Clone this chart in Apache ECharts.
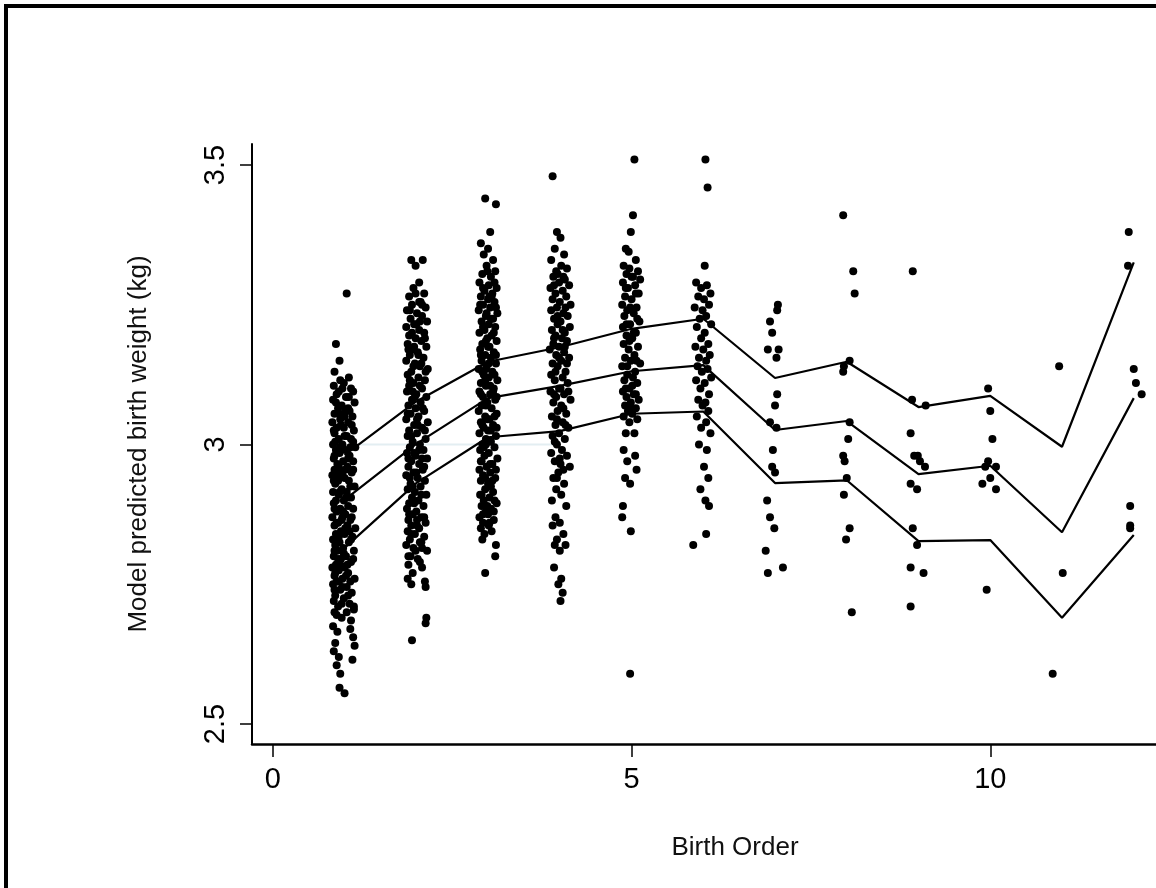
<!DOCTYPE html>
<html>
<head>
<meta charset="utf-8">
<script src="https://cdn.jsdelivr.net/npm/echarts@6/dist/echarts.min.js"></script>
<style>
html,body{margin:0;padding:0;background:#fff;}
#chart{width:1156px;height:888px;}
</style>
</head>
<body>
<div id="chart"></div>
<script>
// ---- data ----
var birthOrder = [1,2,3,4,5,6,7,8,9,10,11,12];
var upperLine = [2.981, 3.077, 3.148, 3.174, 3.207, 3.225, 3.119, 3.148, 3.067, 3.087, 2.996, 3.326];
var middleLine = [2.901, 3.001, 3.083, 3.105, 3.131, 3.142, 3.026, 3.042, 2.947, 2.962, 2.843, 3.083];
var lowerLine = [2.815, 2.931, 3.013, 3.024, 3.055, 3.059, 2.931, 2.936, 2.827, 2.829, 2.690, 2.838];
var xTicks = [0, 5, 10];
var yTicks = [2.5, 3, 3.5];
var faintRef = [[1.2, 3.0], [3.9, 3.0]];

var pts1 = [[1.03,3.27],[0.88,3.18],[0.93,3.15],[0.86,3.13],[1.06,3.12],[0.94,3.115],
[0.85,3.105],[1.09,3.10],[0.97,3.10],[1.12,3.095],[0.89,3.09],[1.02,3.085],[0.84,3.08],[1.14,3.075],[0.96,3.07],
[0.91,3.065],[1.07,3.06],[0.86,3.055],[1.00,3.05],[1.11,3.05],[0.94,3.045],[0.83,3.04],[1.05,3.04],[0.89,3.03],[0.99,3.03],[1.13,3.025],
[0.86,3.02],[1.03,3.015],[0.92,3.01],[1.09,3.01],[0.84,3.00],[0.97,3.00],[1.15,2.995],[0.88,2.99],[1.01,2.99],[0.93,2.985],[1.07,2.98],[0.85,2.975],
[0.98,2.97],[1.12,2.97],[0.90,2.965],[1.04,2.96],[0.86,2.955],[0.95,2.95],[1.10,2.95],[0.83,2.945],[1.00,2.94],[0.91,2.935],[1.06,2.935],[0.87,2.93],[1.14,2.925],[0.96,2.92],
[0.84,2.915],[1.03,2.915],[0.92,2.91],[1.09,2.905],[0.88,2.90],[0.99,2.90],[0.85,2.895],[1.05,2.89],[0.94,2.885],[1.12,2.885],[0.89,2.88],[1.01,2.875],
[0.83,2.87],[0.97,2.87],[1.08,2.865],[0.91,2.86],[0.86,2.855],[1.04,2.855],[1.15,2.85],[0.95,2.845],[0.88,2.84],[1.00,2.84],[1.11,2.835],[0.84,2.83],[0.93,2.825],[1.06,2.825],
[0.87,2.82],[0.98,2.815],[1.13,2.81],[0.90,2.81],[0.85,2.80],[1.02,2.80],[0.95,2.795],[1.09,2.79],[0.88,2.785],[0.83,2.78],[1.00,2.78],[0.92,2.775],[1.05,2.77],[0.86,2.765],
[1.14,2.76],[0.97,2.76],[0.89,2.755],[0.84,2.75],[1.03,2.745],[0.94,2.74],[1.10,2.735],[0.87,2.73],[0.99,2.725],[0.85,2.72],[1.07,2.715],[0.91,2.71],[1.13,2.705],
[0.86,2.70],[0.96,2.69],[1.09,2.685],[0.84,2.675],[0.90,2.665],[1.12,2.655],[0.87,2.645],[1.14,2.64],[0.85,2.63],[0.92,2.62],[1.11,2.615],[0.89,2.605],
[0.94,2.59],[0.93,2.565],[1.00,2.555],[1.13,2.71],[1.08,2.67],
[0.95,3.035],[1.08,2.995],[0.90,2.945],[1.02,2.905],[0.96,2.865],[1.07,2.845],[0.91,2.795],[1.04,2.785],[0.97,2.745],[1.01,2.955],[0.87,3.005],[1.05,3.065],
[0.99,3.11],[0.92,3.095],[1.06,3.085],[0.88,3.075],[1.01,3.06],[0.93,3.055],[1.10,3.035],[0.85,3.025],[1.00,3.015],[1.12,3.005],[0.94,2.995],[0.86,2.98],
[1.05,2.975],[0.92,2.96],[1.12,2.955],[0.97,2.945],[0.85,2.935],[1.08,2.925],[0.93,2.915],[1.05,2.905],[0.86,2.885],[0.98,2.88],[1.10,2.87],[0.89,2.86],
[1.01,2.85],[0.92,2.835],[1.09,2.83],[0.86,2.81],[0.99,2.805],[1.12,2.795],[0.94,2.785],[0.87,2.77],[1.02,2.765],[1.08,2.755],[0.92,2.755],[0.86,2.74],
[1.05,2.73],[0.96,2.715],[0.89,2.695],[1.03,2.70]];

var pts2 = [[1.93,3.33],[2.09,3.33],[1.99,3.32],[2.04,3.29],[1.96,3.28],[2.11,3.27],[1.90,3.265],
[2.06,3.255],[1.94,3.25],[2.13,3.245],[1.87,3.24],[2.01,3.235],[2.08,3.23],[1.92,3.225],[2.15,3.22],[1.97,3.215],[1.86,3.21],[2.04,3.205],[2.11,3.20],[1.90,3.195],[1.99,3.19],
[2.07,3.185],[1.88,3.18],[2.14,3.175],[1.95,3.17],[2.02,3.165],[1.91,3.16],[2.10,3.155],[1.86,3.15],[1.98,3.145],[2.05,3.14],[2.16,3.135],[1.93,3.13],[1.88,3.125],[2.03,3.12],
[2.12,3.115],[1.96,3.11],[1.90,3.105],[2.08,3.10],[1.87,3.095],[2.00,3.09],[2.14,3.085],[1.94,3.08],[2.06,3.075],[1.89,3.07],[1.99,3.065],[2.11,3.06],[1.92,3.055],[2.03,3.05],
[1.86,3.045],[2.16,3.04],[1.97,3.035],[2.08,3.03],[1.90,3.025],[2.01,3.02],[1.88,3.015],[2.13,3.01],[1.95,3.005],[2.05,3.00],[1.91,2.995],[2.10,2.99],[1.87,2.985],[1.99,2.98],
[2.15,2.975],[1.93,2.97],[2.04,2.965],[1.89,2.96],[2.09,2.955],[1.96,2.95],[1.86,2.945],[2.02,2.94],[2.12,2.935],[1.92,2.93],[2.06,2.925],[1.88,2.92],[1.98,2.915],[2.14,2.91],
[1.94,2.905],[2.03,2.90],[1.90,2.895],[2.10,2.89],[1.87,2.885],[2.00,2.88],[1.95,2.875],[2.07,2.87],[1.89,2.865],[2.13,2.86],[1.93,2.855],[2.04,2.85],[1.88,2.845],[1.98,2.84],
[2.11,2.835],[1.91,2.83],[2.05,2.825],[1.86,2.82],[1.96,2.815],[2.15,2.81],[1.92,2.80],[2.02,2.795],[1.89,2.785],[2.08,2.78],[1.95,2.77],[1.88,2.76],[2.12,2.755],[1.93,2.75],
[2.13,2.745],[2.14,2.69],[2.13,2.68],[1.94,2.65],
[2.00,3.215],[2.07,3.145],[1.95,3.095],[2.02,3.035],[2.08,2.975],[1.95,2.925],[2.01,2.865],[2.07,2.825],[1.97,3.175],[2.04,3.255],
[1.99,3.27],[2.08,3.25],[1.91,3.24],[2.05,3.22],[1.94,3.20],[2.12,3.19],[1.89,3.17],[2.03,3.16],[1.96,3.14],[2.13,3.13],[1.91,3.115],[2.05,3.105],
[1.98,3.085],[2.09,3.065],[1.88,3.055],[2.01,3.045],[2.12,3.025],[1.93,3.015],[2.04,2.99],[1.97,2.985],[1.89,2.975],[2.11,2.96],[2.00,2.95],[1.91,2.94],
[2.07,2.91],[1.97,2.895],[1.90,2.875],[2.11,2.87],[2.01,2.855],[1.93,2.84],[2.08,2.815],[1.99,2.81],[1.89,2.80],[2.05,2.79]];

var pts3 = [[2.96,3.44],[3.11,3.43],[3.03,3.38],[2.90,3.36],[3.00,3.35],[2.94,3.34],[3.07,3.33],
[2.98,3.32],[3.10,3.31],[2.92,3.305],[3.04,3.30],[2.88,3.29],[3.01,3.285],[3.12,3.28],[2.95,3.275],[3.06,3.27],[2.90,3.265],[3.00,3.26],[3.09,3.255],[2.93,3.25],[3.03,3.245],
[2.87,3.24],[3.13,3.235],[2.97,3.23],[3.07,3.225],[2.91,3.22],[3.01,3.215],[3.10,3.21],[2.95,3.205],[2.88,3.20],[3.05,3.195],[2.99,3.19],[3.12,3.185],[2.92,3.18],[3.02,3.175],
[2.89,3.17],[3.08,3.165],[2.96,3.16],[3.04,3.155],[2.91,3.15],[3.11,3.145],[2.98,3.14],[2.87,3.135],[3.06,3.13],[2.94,3.125],[3.01,3.12],[3.13,3.115],[2.90,3.11],[2.97,3.105],
[3.08,3.10],[2.88,3.095],[3.03,3.09],[2.93,3.085],[3.10,3.08],[2.99,3.075],[2.91,3.07],[3.05,3.065],[2.87,3.06],[3.12,3.055],[2.96,3.05],[3.02,3.045],[2.90,3.04],[3.07,3.035],
[2.94,3.03],[3.00,3.025],[2.88,3.02],[3.11,3.015],[2.97,3.01],[3.04,3.005],[2.92,3.00],[3.09,2.995],[2.89,2.99],[3.01,2.985],[2.95,2.98],[3.13,2.975],[2.91,2.97],[3.06,2.965],
[2.98,2.96],[2.88,2.955],[3.03,2.95],[2.93,2.945],[3.10,2.94],[2.90,2.935],[3.00,2.93],[2.96,2.92],[3.07,2.915],[2.89,2.91],[3.02,2.905],[2.94,2.90],[3.12,2.895],[2.91,2.89],
[3.04,2.885],[2.97,2.88],[2.88,2.87],[3.08,2.865],[2.93,2.86],[3.01,2.855],[2.90,2.85],[3.05,2.845],[2.95,2.84],[2.92,2.83],[3.11,2.82],[3.10,2.80],[2.96,2.77],
[3.04,3.225],[2.97,3.185],[3.07,3.095],[2.99,3.045],[2.94,2.995],[3.06,2.935],[3.00,2.875],[2.97,3.135],[3.05,3.265],
[2.99,3.31],[3.09,3.29],[2.93,3.28],[3.02,3.265],[2.89,3.25],[3.11,3.245],[2.98,3.235],[2.93,3.21],[3.08,3.20],[3.00,3.175],[2.90,3.16],[3.11,3.16],
[3.01,3.145],[2.92,3.13],[3.09,3.125],[2.96,3.115],[3.03,3.105],[2.90,3.09],[3.12,3.085],[2.97,3.07],[3.09,3.05],[2.92,3.035],[3.04,3.025],[3.12,3.03],
[2.97,3.00],[2.90,2.97],[3.03,2.965],[3.11,2.955],[2.96,2.94],[3.04,2.925],[2.91,2.91],[3.09,2.90],[2.99,2.89],[3.08,2.88],[2.93,2.875],[3.02,2.86]];

var pts4 = [[3.90,3.48],[3.96,3.38],[4.01,3.37],[3.93,3.35],[4.06,3.34],[3.88,3.33],[4.02,3.32],
[4.10,3.315],[3.95,3.31],[3.91,3.30],[4.07,3.295],[3.99,3.29],[4.13,3.285],[3.87,3.28],[4.04,3.275],[3.94,3.27],[4.09,3.265],[3.90,3.26],[4.00,3.255],[4.15,3.25],[3.96,3.245],
[3.88,3.24],[4.05,3.235],[4.11,3.23],[3.92,3.225],[4.01,3.22],[3.97,3.215],[4.14,3.21],[3.89,3.205],[4.07,3.20],[3.94,3.195],[4.03,3.19],[4.10,3.185],[3.91,3.18],[3.99,3.175],
[3.86,3.17],[4.06,3.165],[3.95,3.16],[4.13,3.155],[4.02,3.15],[3.90,3.145],[3.97,3.14],[4.08,3.13],[3.88,3.125],[4.04,3.12],[3.93,3.115],[4.11,3.11],[3.99,3.10],[3.87,3.095],
[4.06,3.09],[3.95,3.085],[4.15,3.08],[3.91,3.075],[4.02,3.07],[3.97,3.06],[4.09,3.055],[3.89,3.05],[4.04,3.04],[3.94,3.035],[4.12,3.03],[3.99,3.02],[3.90,3.015],[4.07,3.01],
[3.96,3.00],[4.03,2.99],[3.88,2.985],[4.10,2.98],[3.93,2.97],[4.01,2.965],[4.14,2.96],[3.98,2.95],[3.91,2.94],[4.06,2.93],[3.95,2.92],[4.02,2.91],[3.89,2.90],[4.09,2.89],
[3.94,2.87],[4.00,2.86],[3.90,2.855],[4.05,2.84],[3.96,2.83],[3.93,2.82],[4.08,2.82],[4.00,2.81],[3.92,2.78],[4.02,2.76],[3.98,2.75],[4.04,2.735],[4.01,2.72],
[3.97,3.305],[4.05,3.30],[3.92,3.285],[4.08,3.245],[3.97,3.23],[4.04,3.205],[3.92,3.19],[4.07,3.175],[3.99,3.155],[4.10,3.145],[3.94,3.13],[4.01,3.10],
[4.12,3.095],[3.92,3.09],[4.05,3.065],[3.96,3.045],[4.08,3.035],[3.93,3.005],[4.00,2.975],[4.05,2.955],[3.96,2.94]];

var pts5 = [[5.04,3.51],[5.02,3.41],[4.99,3.38],[4.92,3.35],[4.96,3.345],[5.06,3.33],[4.89,3.32],
[4.97,3.315],[5.09,3.31],[4.93,3.305],[5.02,3.30],[5.12,3.295],[4.88,3.29],[5.05,3.285],[4.95,3.28],[5.10,3.27],[4.91,3.265],[5.00,3.26],[4.87,3.25],[5.07,3.245],[4.94,3.24],
[5.03,3.235],[4.90,3.23],[5.11,3.22],[4.98,3.215],[4.88,3.21],[5.06,3.20],[4.93,3.195],[5.01,3.19],[4.89,3.18],[5.09,3.175],[4.96,3.17],[5.04,3.16],[4.91,3.155],[4.99,3.15],
[5.12,3.145],[4.87,3.14],[5.05,3.13],[4.94,3.125],[5.02,3.12],[4.90,3.115],[5.08,3.11],[4.97,3.10],[4.88,3.095],[5.03,3.09],[4.93,3.085],[5.10,3.08],[4.99,3.075],[4.91,3.07],
[5.06,3.065],[4.95,3.06],[5.01,3.055],[4.89,3.05],[5.08,3.045],[4.97,3.04],[4.92,3.02],[5.04,3.02],[4.89,2.99],[5.05,2.98],[4.94,2.97],[5.07,2.955],[4.91,2.94],[4.98,2.93],
[4.88,2.89],[4.87,2.87],[4.99,2.845],[4.98,2.59],
[5.00,3.30],[4.92,3.28],[5.06,3.27],[4.98,3.245],[5.08,3.225],[4.93,3.215],[5.03,3.20],[4.97,3.185],[5.07,3.15],[4.94,3.14],[5.01,3.105],[4.92,3.10],[5.06,3.09],[4.97,3.065]];

var pts6 = [[6.03,3.51],[6.06,3.46],[6.02,3.32],[5.90,3.29],[6.05,3.285],[5.97,3.28],[6.10,3.27],
[5.93,3.265],[6.01,3.26],[6.08,3.25],[5.88,3.245],[5.99,3.24],[6.04,3.23],[5.95,3.225],[6.11,3.215],[5.91,3.21],[6.02,3.20],[5.97,3.19],[6.07,3.18],[5.89,3.175],[6.00,3.17],
[6.09,3.16],[5.94,3.155],[6.04,3.15],[5.92,3.14],[6.06,3.135],[5.98,3.13],[6.11,3.12],[5.90,3.115],[6.02,3.11],[5.96,3.10],[6.08,3.09],[5.93,3.08],[6.03,3.075],[5.99,3.07],
[6.07,3.06],[5.91,3.05],[6.04,3.04],[5.97,3.03],[6.10,3.02],[5.94,3.00],[6.05,2.99],[6.01,2.96],[6.07,2.94],[5.96,2.92],[6.03,2.90],[6.08,2.89],[6.04,2.84],[5.86,2.82]];

var pts7 = [[7.04,3.25],[7.03,3.24],[6.93,3.22],[6.96,3.20],[6.90,3.17],[7.05,3.17],[7.02,3.155],[7.03,3.09],[7.00,3.07],[6.93,3.04],
[7.02,3.03],[6.97,2.99],[6.96,2.96],[7.00,2.95],[6.89,2.90],[6.93,2.87],[6.99,2.85],[6.87,2.81],[7.11,2.78],[6.90,2.77]];
var pts8 = [[7.95,3.41],[8.09,3.31],[8.11,3.27],[8.04,3.15],[7.96,3.14],[7.95,3.13],[8.04,3.04],[8.02,3.01],[7.95,2.98],[7.97,2.97],
[8.00,2.94],[7.96,2.91],[8.04,2.85],[7.99,2.83],[8.07,2.70]];
var pts9 = [[8.92,3.31],[8.91,3.08],[9.10,3.07],[8.89,3.02],[8.94,2.98],[8.99,2.98],[9.02,2.97],[9.09,2.96],[8.89,2.93],[8.98,2.92],
[8.92,2.85],[8.98,2.82],[8.89,2.78],[9.07,2.77],[8.89,2.71]];
var pts10 = [[9.97,3.10],[10.00,3.06],[10.03,3.01],[9.97,2.97],[9.93,2.96],[10.08,2.96],[10.00,2.94],[9.89,2.93],[10.08,2.92],[9.95,2.74]];
var pts11 = [[10.96,3.14],[11.01,2.77],[10.87,2.59]];
var pts12 = [[11.93,3.38],[11.92,3.32],[12.00,3.135],[12.03,3.11],[12.11,3.09],[11.95,2.89],[11.95,2.855],[11.95,2.85]];

// ---- build ----
var allPoints = [].concat(pts1, pts2, pts3, pts4, pts5, pts6, pts7, pts8, pts9, pts10, pts11, pts12);
function pairs(ys){ return birthOrder.map(function(x,i){ return [x, ys[i]]; }); }
var FONT = '"Liberation Sans", Arial, sans-serif';

var chart = echarts.init(document.getElementById('chart'), null, {renderer:'canvas'});
chart.setOption({
  animation: false,
  backgroundColor: '#ffffff',
  grid: { left: 252, right: 0, top: 144, bottom: 144, containLabel: false },
  xAxis: {
    type: 'value', min: -0.29, max: 12.31,
    name: 'Birth Order', nameLocation: 'middle', nameGap: 91,
    nameTextStyle: { fontFamily: FONT, fontSize: 26, color: '#111', padding: [0,0,0,62] },
    axisLine: { show: true, onZero: false, lineStyle: { color: '#000', width: 2.5 } },
    axisTick: { show: true, length: 13, customValues: xTicks, lineStyle: { color: '#000', width: 1.5 } },
    axisLabel: { show: true, customValues: xTicks, margin: 21, fontFamily: FONT, fontSize: 29, color: '#000' },
    splitLine: { show: false }
  },
  yAxis: {
    type: 'value', min: 2.4642, max: 3.5376,
    name: 'Model predicted birth weight (kg)', nameLocation: 'middle', nameGap: 100,
    nameTextStyle: { fontFamily: FONT, fontSize: 26, color: '#111' },
    axisLine: { show: true, onZero: false, lineStyle: { color: '#000', width: 2 } },
    axisTick: { show: true, length: 12, customValues: yTicks, lineStyle: { color: '#000', width: 1.5 } },
    axisLabel: { show: true, customValues: yTicks, rotate: 90, margin: 22, fontFamily: FONT, fontSize: 29, color: '#000' },
    splitLine: { show: false }
  },
  series: [
    { type: 'line', data: faintRef, symbol: 'none', silent: true, z: 1,
      lineStyle: { color: '#e3eef2', width: 2 } },
    { type: 'scatter', data: allPoints, symbol: 'circle', symbolSize: 8, z: 2,
      itemStyle: { color: '#000', opacity: 1 } },
    { type: 'line', data: pairs(upperLine), symbol: 'none', z: 3, lineStyle: { color: '#000', width: 2.2 } },
    { type: 'line', data: pairs(middleLine), symbol: 'none', z: 3, lineStyle: { color: '#000', width: 2.2 } },
    { type: 'line', data: pairs(lowerLine), symbol: 'none', z: 3, lineStyle: { color: '#000', width: 2.2 } }
  ],
  graphic: [
    { type: 'rect', shape: { x: 4, y: 4, width: 1152, height: 4 }, style: { fill: '#000' }, silent: true },
    { type: 'rect', shape: { x: 4, y: 4, width: 4, height: 884 }, style: { fill: '#000' }, silent: true }
  ]
});
</script>
</body>
</html>
